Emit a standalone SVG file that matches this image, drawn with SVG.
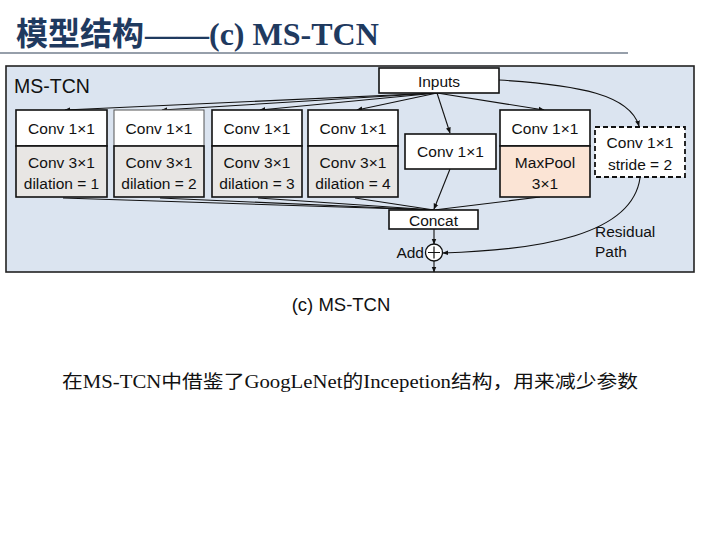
<svg xmlns="http://www.w3.org/2000/svg" width="720" height="540" viewBox="0 0 720 540">
<defs>
<style>
.t{font-family:"Liberation Sans",Arial,sans-serif;font-size:15.5px;fill:#111;text-anchor:middle}
.s{font-family:"Liberation Sans",Arial,sans-serif;font-size:15.5px;fill:#111}
.box{stroke:#111;stroke-width:1.6}
.w{fill:#fff}
.g{fill:#e8e6e4}
.p{fill:#fbe4d5}
.ln{fill:none;stroke:#111;stroke-width:1.1}
</style>
<marker id="ah" viewBox="0 0 10 10" refX="9" refY="5" markerWidth="6" markerHeight="6" orient="auto" markerUnits="userSpaceOnUse"><path d="M0,1 L10,5 L0,9 z" fill="#111"/></marker>
</defs>
<rect width="720" height="540" fill="#fff"/>
<g id="title">
<text x="16" y="45" font-family="'Noto Sans CJK SC',sans-serif" font-weight="bold" font-size="32" fill="#1f3a5f">模型结构</text>
<text x="145" y="45" font-family="'Liberation Serif','Noto Sans CJK SC',serif" font-weight="bold" font-size="32" fill="#1f3a5f">——(c) MS-TCN</text>
<line x1="0" y1="53" x2="628" y2="53" stroke="#2e4057" stroke-width="1.2"/>
</g>
<g id="panel">
<rect x="6" y="66" width="688" height="206" fill="#dbe4f0" stroke="#222" stroke-width="1.6"/>
<text x="14" y="93" font-family="'Liberation Sans',Arial,sans-serif" font-size="19.5" fill="#111">MS-TCN</text>
</g>
<g id="connectors">
<path class="ln" d="M437,93 L65,110" marker-end="url(#ah)"/>
<path class="ln" d="M437,93 L162,110" marker-end="url(#ah)"/>
<path class="ln" d="M437,93 L260,110" marker-end="url(#ah)"/>
<path class="ln" d="M437,93 L357,110" marker-end="url(#ah)"/>
<path class="ln" d="M437,93 L450,133" marker-end="url(#ah)"/>
<path class="ln" d="M437,93 L544,110" marker-end="url(#ah)"/>
<path class="ln" d="M499,80 C580,85 630,95 639,126" marker-end="url(#ah)"/>
<path class="ln" d="M63,198 L434,210"/>
<path class="ln" d="M160,198 L434,210"/>
<path class="ln" d="M258,198 L434,210"/>
<path class="ln" d="M355,198 L434,210"/>
<path class="ln" d="M540,197 L434,210"/>
<path class="ln" d="M450,169 L434,209" marker-end="url(#ah)"/>
<path class="ln" d="M434,229 L434,244" marker-end="url(#ah)"/>
<path class="ln" d="M434,261 L434,272" marker-end="url(#ah)"/>
<path class="ln" d="M640,178 C632,235 540,250 443,253" marker-end="url(#ah)"/>
</g>
<g id="inputs">
<rect class="box w" x="379" y="68" width="120" height="25"/>
<text class="t" x="439" y="87">Inputs</text>
</g>
<g id="branch1">
<rect class="box w" x="16" y="110" width="91" height="36"/>
<rect class="box g" x="16" y="146" width="91" height="51"/>
<text class="t" x="61.5" y="134">Conv 1×1</text>
<text class="t" x="61.5" y="168">Conv 3×1</text>
<text class="t" x="61.5" y="189">dilation = 1</text>
</g>
<g id="branch2">
<rect class="w" x="114" y="110" width="90" height="36" stroke="#555" stroke-width="1"/>
<rect class="box g" x="114" y="146" width="90" height="51"/>
<text class="t" x="159" y="134">Conv 1×1</text>
<text class="t" x="159" y="168">Conv 3×1</text>
<text class="t" x="159" y="189">dilation = 2</text>
</g>
<g id="branch3">
<rect class="box w" x="212" y="110" width="90" height="36"/>
<rect class="box g" x="212" y="146" width="90" height="51"/>
<text class="t" x="257" y="134">Conv 1×1</text>
<text class="t" x="257" y="168">Conv 3×1</text>
<text class="t" x="257" y="189">dilation = 3</text>
</g>
<g id="branch4">
<rect class="box w" x="308" y="110" width="90" height="36"/>
<rect class="box g" x="308" y="146" width="90" height="51"/>
<text class="t" x="353" y="134">Conv 1×1</text>
<text class="t" x="353" y="168">Conv 3×1</text>
<text class="t" x="353" y="189">dilation = 4</text>
</g>
<g id="branch5">
<rect class="box w" x="405" y="134" width="91" height="35"/>
<text class="t" x="450.5" y="157">Conv 1×1</text>
</g>
<g id="branch6">
<rect class="box w" x="500" y="110" width="90" height="36"/>
<rect class="box p" x="500" y="146" width="90" height="51"/>
<text class="t" x="545" y="134">Conv 1×1</text>
<text class="t" x="545" y="168">MaxPool</text>
<text class="t" x="545" y="189">3×1</text>
</g>
<g id="residual">
<rect class="w" x="595" y="127" width="90" height="50" stroke="#111" stroke-width="1.8" stroke-dasharray="5,3"/>
<text class="t" x="640" y="148">Conv 1×1</text>
<text class="t" x="640" y="170">stride = 2</text>
<text class="s" x="595" y="237">Residual</text>
<text class="s" x="595" y="257">Path</text>
</g>
<g id="concat">
<rect class="box w" x="389" y="210" width="89" height="19"/>
<text class="t" x="433.5" y="226">Concat</text>
</g>
<g id="add">
<circle cx="434" cy="252.5" r="8.5" fill="#fff" stroke="#111" stroke-width="1.3"/>
<path d="M428,252.5 H440 M434,246.5 V258.5" stroke="#111" stroke-width="1.2"/>
<text class="s" x="424" y="258" text-anchor="end">Add</text>
</g>
<g id="caption">
<text x="341" y="311" font-family="'Liberation Sans',Arial,sans-serif" font-size="18.5" fill="#111" text-anchor="middle">(c) MS-TCN</text>
<text x="62" y="388" font-family="'Liberation Serif','Noto Sans CJK SC',serif" font-size="18.5" fill="#111" textLength="576" lengthAdjust="spacingAndGlyphs">在MS-TCN中借鉴了GoogLeNet的Incepetion结构，用来减少参数</text>
</g>
</svg>
